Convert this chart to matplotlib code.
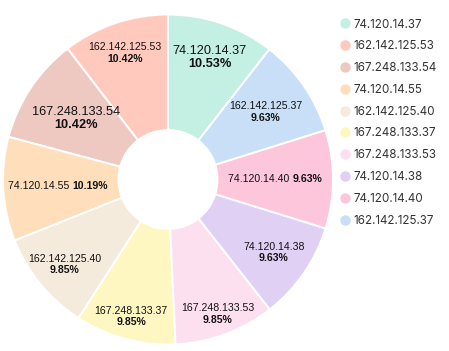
import numpy as np
import matplotlib.pyplot as plt
from matplotlib.lines import Line2D

ips = ['74.120.14.37', '162.142.125.53', '167.248.133.54', '74.120.14.55', '162.142.125.40',
       '167.248.133.37', '167.248.133.53', '74.120.14.38', '74.120.14.40', '162.142.125.37']
shares = [10.53, 10.42, 10.42, 10.19, 9.85, 9.85, 9.85, 9.63, 9.63, 9.63]
colors = ['#c3f0e3', '#ffcabd', '#eec9c2', '#ffdfbb', '#f5ebdd',
          '#fff7c1', '#fde0ef', '#dfd0f4', '#fec6da', '#c8dff7']

# label look per slice: radius (fraction of outer), big font?, one line?
lab_r = [0.78, 0.81, 0.67, 0.67, 0.81, 0.86, 0.87, 0.78, 0.65, 0.72]
lab_big = [True, False, True, False, False, False, False, False, False, False]
lab_one = [False, False, False, True, False, False, False, False, True, False]

fig = plt.figure(figsize=(4.49, 3.51), dpi=100)
R = 165
cx, cy = 168, 351 - 179.5
ax = fig.add_axes([(cx - R) / 449, (cy - R) / 351, 2 * R / 449, 2 * R / 351])

wedges, _ = ax.pie(shares, colors=colors, startangle=90 - shares[0] * 3.6, counterclock=True,
                   radius=1, wedgeprops=dict(width=0.7, edgecolor='white', linewidth=1.4))
ax.set_xlim(-1, 1)
ax.set_ylim(-1, 1)
ax.axis('off')

fig.canvas.draw()
renderer = fig.canvas.get_renderer()
font = 'Liberation Sans'

for w, ip, pct, r, big, one in zip(wedges, ips, shares, lab_r, lab_big, lab_one):
    ang = np.deg2rad((w.theta1 + w.theta2) / 2)
    x, y = r * np.cos(ang), r * np.sin(ang)
    fs = 9.2 if big else 7.6
    if one:
        t1 = ax.text(x, y, ip + ' ', fontsize=fs, family=font, ha='left', va='center', color='#111')
        t2 = ax.text(x, y, f'{pct:.2f}%', fontsize=fs, family=font, weight='bold',
                     ha='left', va='center', color='#111')
        w1 = t1.get_window_extent(renderer).width / R
        w2 = t2.get_window_extent(renderer).width / R
        t1.set_x(x - (w1 + w2) / 2)
        t2.set_x(x - (w1 + w2) / 2 + w1)
    else:
        dy = (13 if big else 11.5) / R / 2
        ax.text(x, y + dy, ip, fontsize=fs, family=font, ha='center', va='center', color='#111')
        ax.text(x, y - dy, f'{pct:.2f}%', fontsize=fs, family=font, weight='bold',
                ha='center', va='center', color='#111')

handles = [Line2D([], [], marker='o', linestyle='', markersize=6.5, markerfacecolor=c,
                  markeredgecolor=c) for c in colors]
leg = fig.legend(handles, ips, loc='upper left', bbox_to_anchor=(327 / 449, 1 - 8 / 351),
                 frameon=False, handletextpad=0.2, labelspacing=0.84, handlelength=1.2,
                 prop={'family': 'Inter', 'size': 8.4})
for t in leg.get_texts():
    t.set_color('#333333')

fig.savefig('out.png', dpi=100)
